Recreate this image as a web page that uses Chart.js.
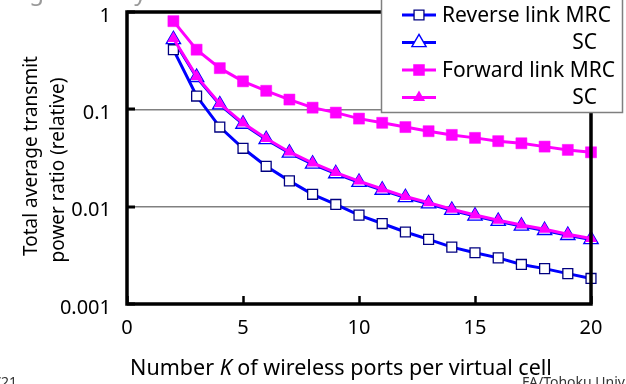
<!DOCTYPE html>
<html>
<head>
<meta charset="utf-8">
<script src="https://cdn.jsdelivr.net/npm/chart.js@4/dist/chart.umd.min.js"></script>
<style>
  html, body { margin: 0; padding: 0; background: #ffffff; }
  #wrap { width: 626px; height: 384px; position: relative; }
</style>
</head>
<body>
<div id="wrap"><canvas id="c" width="626" height="384"></canvas></div>
<script>
// Number K of wireless ports per virtual cell
const kValues = [2, 3, 4, 5, 6, 7, 8, 9, 10, 11, 12, 13, 14, 15, 16, 17, 18, 19, 20];

// Total average transmit power ratio (relative)
const reverseMRC = [0.410, 0.137, 0.0658, 0.0398, 0.0260, 0.0184, 0.0134, 0.01054, 0.00818, 0.00671,
                    0.00549, 0.00461, 0.00384, 0.00336, 0.00298, 0.00255, 0.00231, 0.00205, 0.00183];
const reverseSC  = [0.522, 0.213, 0.1115, 0.0705, 0.0489, 0.0356, 0.0274, 0.0218, 0.0178, 0.0148,
                    0.0124, 0.0107, 0.00918, 0.00801, 0.00708, 0.00633, 0.00570, 0.00507, 0.00460];
const forwardMRC = [0.805, 0.410, 0.265, 0.194, 0.155, 0.126, 0.104, 0.0925, 0.0803, 0.0727,
                    0.0657, 0.0596, 0.0546, 0.0509, 0.0471, 0.0448, 0.0414, 0.0383, 0.0362];
const forwardSC  = [0.535, 0.218, 0.1144, 0.0723, 0.0501, 0.0365, 0.0281, 0.0224, 0.0183, 0.0152,
                    0.0127, 0.0110, 0.00942, 0.00822, 0.00726, 0.00649, 0.00585, 0.00520, 0.00472];

const xTickValues = [0, 5, 10, 15, 20];
const yTickValues = [0.001, 0.01, 0.1, 1];
const yTickLabels = ['0.001', '0.01', '0.1', '1'];

const FONT = "'Noto Sans', 'DejaVu Sans', sans-serif";
const BLUE = '#0000ff';
const MAGENTA = '#ff00ff';

const toPoints = vals => kValues.map((k, i) => ({ x: k, y: vals[i] }));

const datasets = [
  {
    label: 'Reverse link MRC', legendText: 'Reverse link MRC', legendAlign: 'left',
    data: toPoints(reverseMRC), order: 2,
    borderColor: BLUE, borderWidth: 3,
    pointStyle: 'rect', pointRadius: 7, pointBackgroundColor: '#ffffff',
    pointBorderColor: '#000080', pointBorderWidth: 1.3
  },
  {
    label: 'Reverse link SC', legendText: 'SC', legendAlign: 'right',
    data: toPoints(reverseSC), order: 3,
    borderColor: BLUE, borderWidth: 3,
    pointStyle: 'triangle', pointRadius: 8.2, pointBackgroundColor: '#ffffff',
    pointBorderColor: BLUE, pointBorderWidth: 1.4
  },
  {
    label: 'Forward link MRC', legendText: 'Forward link MRC', legendAlign: 'left',
    data: toPoints(forwardMRC), order: 1,
    borderColor: MAGENTA, borderWidth: 3,
    pointStyle: 'rect', pointRadius: 7.8, pointBackgroundColor: MAGENTA,
    pointBorderColor: MAGENTA, pointBorderWidth: 0.5
  },
  {
    label: 'Forward link SC', legendText: 'SC', legendAlign: 'right',
    data: toPoints(forwardSC), order: 0,
    borderColor: MAGENTA, borderWidth: 3,
    pointStyle: 'triangle', pointRadius: 7, pointBackgroundColor: MAGENTA,
    pointBorderColor: MAGENTA, pointBorderWidth: 0
  }
];

// Frame, inner tick marks, legend box, axis titles and page text
const decorations = {
  id: 'decorations',
  afterDraw(chart) {
    const ctx = chart.ctx;
    const a = chart.chartArea;
    const xs = chart.scales.x, ys = chart.scales.y;
    ctx.save();

    // inner tick marks
    ctx.strokeStyle = '#000';
    ctx.lineWidth = 2.5;
    xTickValues.forEach(v => {
      const px = Math.round(xs.getPixelForValue(v)) + 0.5;
      ctx.beginPath(); ctx.moveTo(px, a.bottom); ctx.lineTo(px, a.bottom - 8); ctx.stroke();
    });
    ctx.lineWidth = 3;
    yTickValues.forEach(v => {
      const py = Math.round(ys.getPixelForValue(v));
      ctx.beginPath(); ctx.moveTo(a.left, py); ctx.lineTo(a.left + 8, py); ctx.stroke();
    });

    // plot frame
    ctx.lineWidth = 3.5;
    ctx.strokeRect(a.left, a.top, a.right - a.left, a.bottom - a.top);

    // legend box
    const box = { x: 381, y: -2, w: 241, h: 114 };
    ctx.fillStyle = '#ffffff';
    ctx.fillRect(box.x, box.y, box.w, box.h);
    ctx.strokeStyle = '#7f7f7f';
    ctx.lineWidth = 1.5;
    ctx.strokeRect(box.x + 0.5, box.y + 0.5, box.w, box.h);
    const rowY = [15, 42.5, 70, 97.5];
    ctx.font = '21px ' + FONT;
    ctx.textBaseline = 'middle';
    datasets.forEach((ds, i) => {
      const y = rowY[i];
      ctx.strokeStyle = ds.borderColor;
      ctx.lineWidth = 3;
      ctx.beginPath(); ctx.moveTo(402, y); ctx.lineTo(436, y); ctx.stroke();
      ctx.fillStyle = ds.pointBackgroundColor;
      ctx.strokeStyle = ds.pointBorderColor;
      ctx.lineWidth = ds.pointBorderWidth;
      Chart.helpers.drawPoint(ctx, {
        pointStyle: ds.pointStyle, radius: ds.pointRadius, rotation: 0,
        borderWidth: ds.pointBorderWidth
      }, 419, y);
      ctx.fillStyle = '#000';
      if (ds.legendAlign === 'left') {
        ctx.textAlign = 'left';
        ctx.fillText(ds.legendText, 442, y + 1);
      } else {
        ctx.textAlign = 'right';
        ctx.fillText(ds.legendText, 597, y + 1);
      }
    });

    // y-axis title (two rotated lines)
    ctx.fillStyle = '#000';
    ctx.textAlign = 'center';
    ctx.textBaseline = 'middle';
    ctx.font = '19px ' + FONT;
    [['Total average transmit', 32, 156], ['power ratio (relative)', 59, 170]].forEach(([t, x, y]) => {
      ctx.save();
      ctx.translate(x, y);
      ctx.rotate(-Math.PI / 2);
      ctx.fillText(t, 0, 0);
      ctx.restore();
    });

    // x-axis title with italic K
    const parts = [['Number ', ''], ['K', 'italic '], [' of wireless ports per virtual cell', '']];
    const size = 21.5;
    let total = 0;
    parts.forEach(([t, st]) => { ctx.font = st + size + 'px ' + FONT; total += ctx.measureText(t).width; });
    let x = 341 - total / 2;
    ctx.textAlign = 'left';
    ctx.textBaseline = 'alphabetic';
    parts.forEach(([t, st]) => {
      ctx.font = st + size + 'px ' + FONT;
      ctx.fillText(t, x, 375);
      x += ctx.measureText(t).width;
    });

    // slide heading (above the visible area) and footer
    ctx.fillStyle = '#9a9a9a';
    ctx.font = '24px ' + FONT;
    ctx.fillText('Significantly reduced', 10, 0);
    ctx.fillStyle = '#333';
    ctx.font = '14px ' + FONT;
    ctx.textBaseline = 'top';
    ctx.textAlign = 'right';
    ctx.fillText('7/21', 17, 376);
    ctx.textAlign = 'left';
    ctx.fillText('FA/Tohoku Univ.', 522, 376);

    ctx.restore();
  }
};

new Chart(document.getElementById('c'), {
  type: 'line',
  data: { datasets },
  options: {
    responsive: false,
    animation: false,
    devicePixelRatio: 1,
    layout: { padding: { top: 12, right: 35, left: 0, bottom: 0 } },
    plugins: { legend: { display: false }, tooltip: { enabled: false }, title: { display: false } },
    elements: { line: { tension: 0 } },
    datasets: { line: { clip: false } },
    scales: {
      x: {
        type: 'linear', min: 0, max: 20,
        afterBuildTicks: axis => { axis.ticks = xTickValues.map(v => ({ value: v })); },
        afterFit: axis => { axis.height = 80; axis.paddingLeft = 0; axis.paddingRight = 0; },
        grid: { display: false, drawTicks: false },
        border: { display: false },
        ticks: { color: '#000', font: { family: FONT, size: 20 }, padding: 12, maxRotation: 0 }
      },
      y: {
        type: 'logarithmic', min: 0.001, max: 1,
        afterBuildTicks: axis => { axis.ticks = yTickValues.map(v => ({ value: v })); },
        afterFit: axis => { axis.width = 127; axis.paddingTop = 0; axis.paddingBottom = 0; },
        grid: {
          drawTicks: false,
          lineWidth: 1.5,
          color: c => (c.tick && (c.tick.value === 0.1 || c.tick.value === 0.01)) ? '#808080' : 'rgba(0,0,0,0)'
        },
        border: { display: false },
        ticks: {
          color: '#000', font: { family: FONT, size: 20 }, padding: 16, labelOffset: 4,
          callback: (v) => yTickLabels[yTickValues.indexOf(v)] ?? ''
        }
      }
    }
  },
  plugins: [decorations]
});
</script>
</body>
</html>
